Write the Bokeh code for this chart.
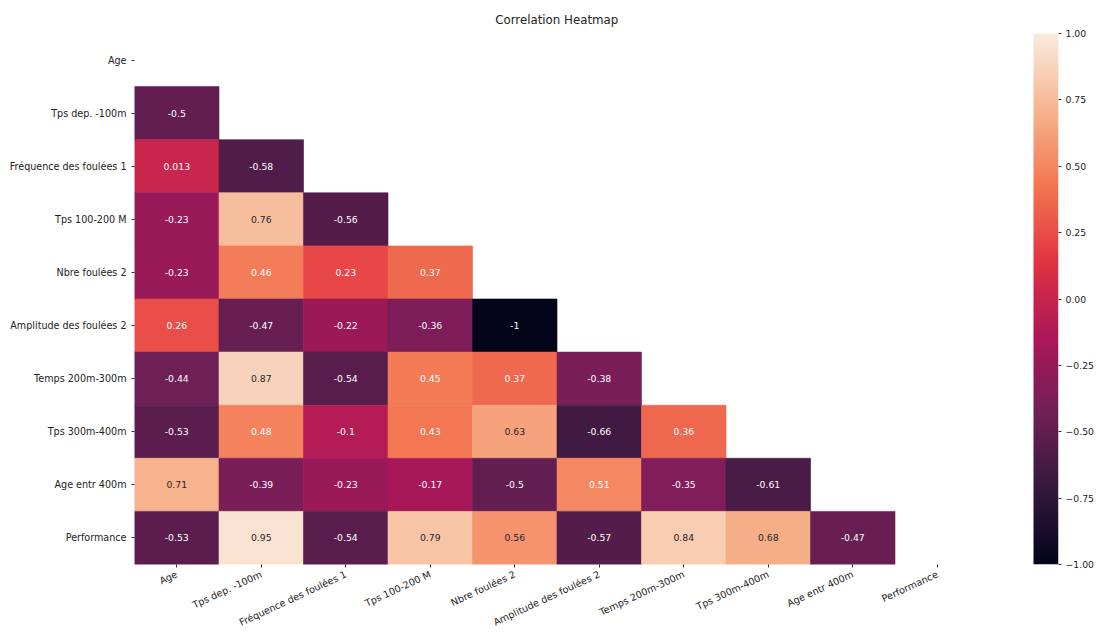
import math
import numpy as np
from bokeh.plotting import figure
from bokeh.models import (Range1d, LinearColorMapper, FixedTicker, CustomJSTickFormatter,
                          LinearAxis, ColumnDataSource)
from bokeh.core.properties import value
from bokeh.embed import file_html
from bokeh.resources import INLINE

# ---- data -------------------------------------------------------------
variables = ["Age", "Tps dep. -100m", "Fréquence des foulées 1", "Tps 100-200 M",
             "Nbre foulées 2", "Amplitude des foulées 2", "Temps 200m-300m",
             "Tps 300m-400m", "Age entr 400m", "Performance"]

# lower triangle of the correlation matrix (row i holds its i first columns)
corr_age = []
corr_tps_dep = [-0.5]
corr_freq1 = [0.013, -0.58]
corr_tps_100_200 = [-0.23, 0.76, -0.56]
corr_nbre2 = [-0.23, 0.46, 0.23, 0.37]
corr_ampl2 = [0.26, -0.47, -0.22, -0.36, -1]
corr_tps_200_300 = [-0.44, 0.87, -0.54, 0.45, 0.37, -0.38]
corr_tps_300_400 = [-0.53, 0.48, -0.1, 0.43, 0.63, -0.66, 0.36]
corr_age_entr = [0.71, -0.39, -0.23, -0.17, -0.5, 0.51, -0.35, -0.61]
corr_perf = [-0.53, 0.95, -0.54, 0.79, 0.56, -0.57, 0.84, 0.68, -0.47]

lower_rows = [corr_age, corr_tps_dep, corr_freq1, corr_tps_100_200, corr_nbre2,
              corr_ampl2, corr_tps_200_300, corr_tps_300_400, corr_age_entr, corr_perf]

colorbar_ticks = [-1.0, -0.75, -0.5, -0.25, 0.0, 0.25, 0.5, 0.75, 1.0]

# ---- "rocket" colour map ------------------------------------------------
rocket_stops = [(0.0, "#03051a"), (1 / 7, "#35193e"), (2 / 7, "#701f57"),
                (3 / 7, "#ad1759"), (4 / 7, "#e13342"), (5 / 7, "#f37651"),
                (6 / 7, "#f6b48f"), (1.0, "#faebdd")]


def hex_rgb(h):
    return tuple(int(h[k:k + 2], 16) for k in (1, 3, 5))


def build_palette(stops, n=256):
    pos = np.array([s[0] for s in stops])
    rgb = np.array([hex_rgb(s[1]) for s in stops], dtype=float)
    t = np.linspace(0, 1, n)
    chans = [np.interp(t, pos, rgb[:, c]) for c in range(3)]
    return ["#%02x%02x%02x" % tuple(int(round(c[i])) for c in chans) for i in range(n)]


palette = build_palette(rocket_stops)
VMIN, VMAX = -1.0, 1.0
mapper = LinearColorMapper(palette=palette, low=VMIN, high=VMAX)


def color_for(v):
    idx = int((v - VMIN) / (VMAX - VMIN) * len(palette))
    return palette[min(max(idx, 0), len(palette) - 1)]


def luminance(h):
    def lin(c):
        c = c / 255
        return c / 12.92 if c <= 0.03928 else ((c + 0.055) / 1.055) ** 2.4
    r, g, b = (lin(c) for c in hex_rgb(h))
    return 0.2126 * r + 0.7152 * g + 0.0722 * b


# ---- cell table ---------------------------------------------------------
xs, ys, vals, fills, labels, txt_cols = [], [], [], [], [], []
for i, row in enumerate(lower_rows):
    for j, v in enumerate(row):
        xs.append(j)
        ys.append(i)
        vals.append(v)
        c = color_for(v)
        fills.append(c)
        labels.append(f"{v:.2g}")
        txt_cols.append("#262626" if luminance(c) > 0.408 else "#ffffff")

src = ColumnDataSource(dict(
    left=xs, right=[x + 1 for x in xs], top=ys, bottom=[y + 1 for y in ys],
    xc=[x + 0.5 for x in xs], yc=[y + 0.5 for y in ys],
    val=vals, fill=fills, label=labels, tcol=txt_cols))

# ---- layout -------------------------------------------------------------
W, H = 1096, 635
LEFT, TOP = 134, 33
CELLS_RIGHT, BOTTOM = 979, 565
CB_LEFT, CB_RIGHT = 1033, 1058
n = len(variables)
cell_w = (CELLS_RIGHT - LEFT) / n
x_max = (CB_RIGHT - LEFT) / cell_w

FONT = "DejaVu Sans"
FS = "9.3px"
AXIS_FS = "9.6px"
TXT = "#222222"
TITLE_FS = 11.8
TITLE_TEXT = "Correlation Heatmap"
# approximate DejaVu Sans advance of the title (in em) to centre it over the cells
TITLE_EM = 10.466

p = figure(width=W, height=H, output_backend="svg", toolbar_location=None,
           x_range=Range1d(0, x_max), y_range=Range1d(n, 0),
           min_border_left=LEFT, min_border_right=W - CB_RIGHT,
           min_border_top=TOP, min_border_bottom=H - BOTTOM,
           background_fill_color="white", border_fill_color="white")
p.outline_line_color = None
p.grid.grid_line_color = None

p.title.text = TITLE_TEXT
p.title.align = "left"
p.title.offset = (CELLS_RIGHT - LEFT) / 2 - TITLE_EM * TITLE_FS / 2
p.title.text_font = FONT
p.title.text_font_size = f"{TITLE_FS}px"
p.title.text_font_style = "normal"
p.title.text_color = TXT
p.title.standoff = 14

p.quad(left="left", right="right", top="top", bottom="bottom", source=src,
       fill_color="fill", line_color="fill", line_width=0.6)
p.text(x="xc", y="yc", text="label", source=src, text_align="center",
       text_baseline="middle", text_color="tcol", text_font=value(FONT),
       text_font_size=FS)

# colour bar drawn as a gradient image on its own -1..1 scale
p.extra_y_ranges = {"cb": Range1d(VMIN, VMAX)}
gradient = np.linspace(VMIN, VMAX, 256).reshape(256, 1)
cb_x0 = (CB_LEFT - LEFT) / cell_w
p.image(image=[gradient], x=cb_x0, y=VMIN, dw=x_max - cb_x0, dh=VMAX - VMIN,
        color_mapper=mapper, y_range_name="cb")

name_fmt = CustomJSTickFormatter(args=dict(names=variables),
                                 code="return names[Math.floor(tick)]")
centers = [k + 0.5 for k in range(n)]

for ax in (p.xaxis[0], p.yaxis[0]):
    ax.ticker = FixedTicker(ticks=centers)
    ax.formatter = name_fmt
    ax.axis_line_color = None
    ax.major_tick_in = 0
    ax.major_tick_out = 3
    ax.major_tick_line_color = "#333333"
    ax.minor_tick_line_color = None
    ax.major_label_text_font = FONT
    ax.major_label_text_font_size = AXIS_FS
    ax.major_label_text_color = TXT
    ax.major_label_standoff = 5

p.xaxis[0].major_label_orientation = math.radians(25)
p.xaxis[0].major_label_standoff = 6

cb_axis = LinearAxis(y_range_name="cb", ticker=FixedTicker(ticks=colorbar_ticks),
                     formatter=CustomJSTickFormatter(
                         code="return (tick < 0 ? '\\u2212' : '') + Math.abs(tick).toFixed(2)"))
cb_axis.axis_line_color = None
cb_axis.major_tick_in = 0
cb_axis.major_tick_out = 3
cb_axis.major_tick_line_color = "#333333"
cb_axis.minor_tick_line_color = None
cb_axis.major_label_text_font = FONT
cb_axis.major_label_text_font_size = FS
cb_axis.major_label_text_color = TXT
cb_axis.major_label_standoff = 4
p.add_layout(cb_axis, "right")

open("out.html", "w").write(file_html(p, INLINE))
